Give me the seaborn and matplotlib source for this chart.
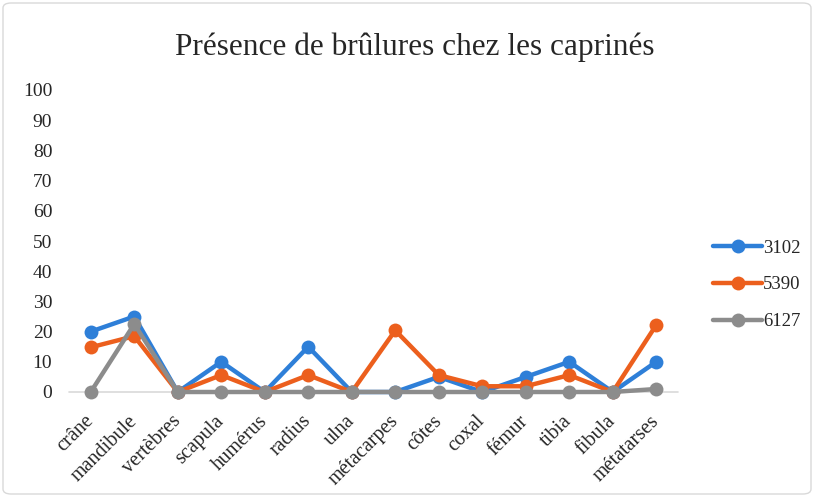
import matplotlib.pyplot as plt
import pandas as pd
import seaborn as sns
from matplotlib.patches import FancyBboxPatch

# bones (x categories)
os_noms = ['crâne', 'mandibule', 'vertèbres', 'scapula', 'humérus', 'radius', 'ulna',
           'métacarpes', 'côtes', 'coxal', 'fémur', 'tibia', 'fibula', 'métatarses']

# one series per site
s3102 = [20, 25, 0, 10, 0, 15, 0, 0, 5, 0, 5, 10, 0, 10]
s5390 = [14.8, 18.5, 0, 5.6, 0, 5.6, 0, 20.4, 5.6, 1.9, 1.9, 5.6, 0, 22.2]
s6127 = [0, 22.5, 0, 0, 0, 0, 0, 0, 0, 0, 0, 0, 0, 1]

series = {'3102': s3102, '5390': s5390, '6127': s6127}
couleurs = {'3102': '#2E7FD8', '5390': '#EC5F1D', '6127': '#8C8C8C'}

df = pd.DataFrame([(os_noms[i], k, v[i]) for k, v in series.items() for i in range(len(os_noms))],
                  columns=['os', 'site', 'pct'])

sns.set_style('white')
plt.rcParams['font.family'] = ['Liberation Serif', 'DejaVu Serif']

fig = plt.figure(figsize=(8.14, 4.97), dpi=100)
ax = fig.add_axes([69 / 814, 1 - 392 / 497, (678 - 69) / 814, (392 - 90) / 497])

sns.lineplot(data=df, x='os', y='pct', hue='site', palette=couleurs, sort=False,
             marker='o', markersize=10, markeredgewidth=0, linewidth=3.2, ax=ax)

ax.set_ylim(0, 100)
ax.set_yticks(range(0, 101, 10))
ax.set_xlim(-0.5, len(os_noms) - 0.5)
ax.set_xlabel('')
ax.set_ylabel('')
for s in ax.spines.values():
    s.set_visible(False)
ax.axhline(0, color='#D9D9D9', lw=1.2, zorder=0)
ax.tick_params(axis='y', length=0, labelsize=14, pad=12)
ax.tick_params(axis='x', length=0, labelsize=14.5, pad=19)
plt.setp(ax.get_xticklabels(), rotation=45, ha='right', va='center', rotation_mode='anchor')
for ln in ax.lines:
    ln.set_clip_on(False)

fig.text(415 / 814, 1 - 47 / 497, 'Présence de brûlures chez les caprinés',
         fontsize=22.5, ha='center', va='center')

ax.legend(loc='center left', bbox_to_anchor=(1.03, 0.355), frameon=False, fontsize=13.5,
          handlelength=2.6, labelspacing=1.05, handletextpad=0.05)

fig.patches.append(FancyBboxPatch((3 / 814, 3 / 497), 808 / 814, 491 / 497,
                                  boxstyle='round,pad=0,rounding_size=0.01',
                                  transform=fig.transFigure, fill=False,
                                  edgecolor='#D9D9D9', lw=1))

fig.savefig('out.png', dpi=100)
